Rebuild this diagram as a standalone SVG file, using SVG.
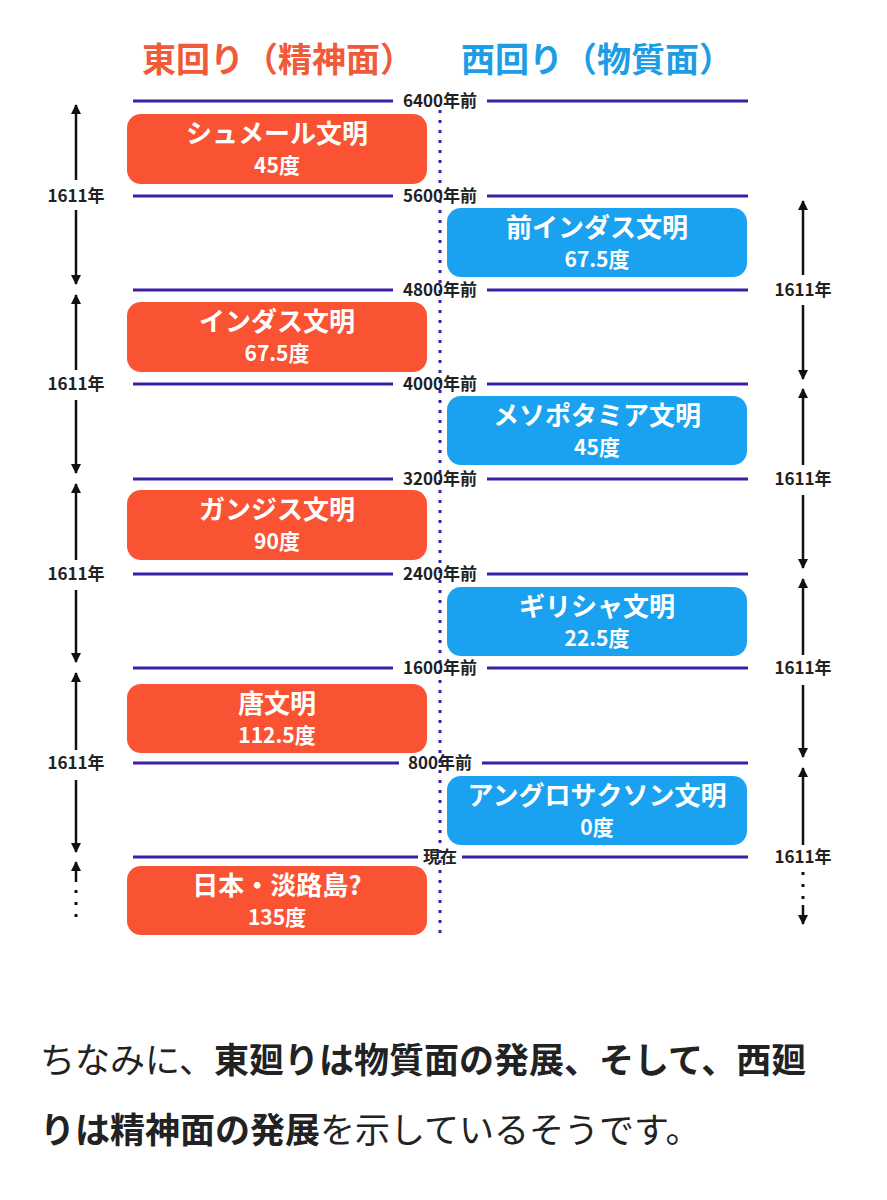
<svg xmlns="http://www.w3.org/2000/svg" width="887" height="1200" viewBox="0 0 887 1200">
<style>
text{font-family:"Noto Sans CJK JP","Liberation Sans",sans-serif;font-weight:bold}
.hl{stroke:#3b1fa8;stroke-width:3}
.lbl{font-size:17px;fill:#222;text-anchor:middle}
.yr{font-size:17px;fill:#222;text-anchor:middle}
.bt{font-size:26px;fill:#fff;text-anchor:middle}
.bs{font-size:21px;fill:#fff;text-anchor:middle}
.red{fill:#f95333}
.blue{fill:#1aa2f0}
.ar{stroke:#111;stroke-width:2.5;fill:none}
.dot{stroke:#111;stroke-width:3;stroke-dasharray:3 9;fill:none}
</style>
<defs><marker id="ah" viewBox="0 0 10 10" refX="9" refY="5" markerWidth="4" markerHeight="4" orient="auto"><path d="M0,0L10,5L0,10z" fill="#111"/></marker></defs>
<rect width="887" height="1200" fill="#fff"/>
<text x="278" y="72" font-size="34" fill="#ef5a38" text-anchor="middle">東回り（精神面）</text>
<text x="597" y="72" font-size="34" fill="#1c9de6" text-anchor="middle">西回り（物質面）</text>
<line x1="440" y1="110" x2="440" y2="935" stroke="#3b1fa8" stroke-width="3" stroke-dasharray="3 7"/>
<g id="connectors">
<line class="hl" x1="133" y1="101" x2="393" y2="101"/><line class="hl" x1="487" y1="101" x2="748" y2="101"/>
<line class="hl" x1="133" y1="196" x2="393" y2="196"/><line class="hl" x1="487" y1="196" x2="748" y2="196"/>
<line class="hl" x1="133" y1="290" x2="393" y2="290"/><line class="hl" x1="487" y1="290" x2="748" y2="290"/>
<line class="hl" x1="133" y1="384" x2="393" y2="384"/><line class="hl" x1="487" y1="384" x2="748" y2="384"/>
<line class="hl" x1="133" y1="479" x2="393" y2="479"/><line class="hl" x1="487" y1="479" x2="748" y2="479"/>
<line class="hl" x1="133" y1="574" x2="393" y2="574"/><line class="hl" x1="487" y1="574" x2="748" y2="574"/>
<line class="hl" x1="133" y1="668" x2="393" y2="668"/><line class="hl" x1="487" y1="668" x2="748" y2="668"/>
<line class="hl" x1="133" y1="763" x2="399" y2="763"/><line class="hl" x1="482" y1="763" x2="748" y2="763"/>
<line class="hl" x1="133" y1="857" x2="418" y2="857"/><line class="hl" x1="462" y1="857" x2="748" y2="857"/>
<line class="ar" x1="76" y1="180" x2="76" y2="105" marker-end="url(#ah)"/><line class="ar" x1="76" y1="210" x2="76" y2="284" marker-end="url(#ah)"/>
<line class="ar" x1="76" y1="370" x2="76" y2="295" marker-end="url(#ah)"/><line class="ar" x1="76" y1="400" x2="76" y2="473" marker-end="url(#ah)"/>
<line class="ar" x1="76" y1="560" x2="76" y2="484" marker-end="url(#ah)"/><line class="ar" x1="76" y1="590" x2="76" y2="662" marker-end="url(#ah)"/>
<line class="ar" x1="76" y1="750" x2="76" y2="673" marker-end="url(#ah)"/><line class="ar" x1="76" y1="780" x2="76" y2="852" marker-end="url(#ah)"/>
<line class="ar" x1="76" y1="882" x2="76" y2="862" marker-end="url(#ah)"/><line class="dot" x1="76" y1="890" x2="76" y2="920"/>
<line class="ar" x1="803" y1="275" x2="803" y2="201" marker-end="url(#ah)"/><line class="ar" x1="803" y1="305" x2="803" y2="379" marker-end="url(#ah)"/>
<line class="ar" x1="803" y1="465" x2="803" y2="389" marker-end="url(#ah)"/><line class="ar" x1="803" y1="495" x2="803" y2="568" marker-end="url(#ah)"/>
<line class="ar" x1="803" y1="655" x2="803" y2="579" marker-end="url(#ah)"/><line class="ar" x1="803" y1="685" x2="803" y2="757" marker-end="url(#ah)"/>
<line class="ar" x1="803" y1="845" x2="803" y2="768" marker-end="url(#ah)"/><line class="dot" x1="803" y1="872" x2="803" y2="902"/>
<line class="ar" x1="803" y1="905" x2="803" y2="924" marker-end="url(#ah)"/>
</g>
<g id="timeLabels">
<text class="lbl" x="440" y="107">6400年前</text><text class="lbl" x="440" y="202">5600年前</text>
<text class="lbl" x="440" y="296">4800年前</text><text class="lbl" x="440" y="390">4000年前</text>
<text class="lbl" x="440" y="485">3200年前</text><text class="lbl" x="440" y="580">2400年前</text>
<text class="lbl" x="440" y="674">1600年前</text><text class="lbl" x="440" y="769">800年前</text>
<text class="lbl" x="440" y="863">現在</text>
<text class="yr" x="76" y="202">1611年</text><text class="yr" x="76" y="390">1611年</text>
<text class="yr" x="76" y="580">1611年</text><text class="yr" x="76" y="769">1611年</text>
<text class="yr" x="803" y="296">1611年</text><text class="yr" x="803" y="485">1611年</text>
<text class="yr" x="803" y="674">1611年</text><text class="yr" x="803" y="863">1611年</text>
</g>
<g id="sumer"><rect class="red" x="127" y="114" width="300" height="70" rx="14"/><text class="bt" x="277" y="143">シュメール文明</text><text class="bs" x="277" y="173">45度</text></g>
<g id="preindus"><rect class="blue" x="447" y="208" width="300" height="69" rx="14"/><text class="bt" x="597" y="237">前インダス文明</text><text class="bs" x="597" y="267">67.5度</text></g>
<g id="indus"><rect class="red" x="127" y="302" width="300" height="70" rx="14"/><text class="bt" x="277" y="331">インダス文明</text><text class="bs" x="277" y="361">67.5度</text></g>
<g id="meso"><rect class="blue" x="447" y="396" width="300" height="69" rx="14"/><text class="bt" x="597" y="425">メソポタミア文明</text><text class="bs" x="597" y="455">45度</text></g>
<g id="ganges"><rect class="red" x="127" y="490" width="300" height="70" rx="14"/><text class="bt" x="277" y="519">ガンジス文明</text><text class="bs" x="277" y="549">90度</text></g>
<g id="greek"><rect class="blue" x="447" y="587" width="300" height="69" rx="14"/><text class="bt" x="597" y="616">ギリシャ文明</text><text class="bs" x="597" y="646">22.5度</text></g>
<g id="tang"><rect class="red" x="127" y="684" width="300" height="69" rx="14"/><text class="bt" x="277" y="713">唐文明</text><text class="bs" x="277" y="743">112.5度</text></g>
<g id="anglo"><rect class="blue" x="447" y="776" width="300" height="69" rx="14"/><text class="bt" x="597" y="805">アングロサクソン文明</text><text class="bs" x="597" y="835">0度</text></g>
<g id="japan"><rect class="red" x="127" y="866" width="300" height="69" rx="14"/><text class="bt" x="277" y="895">日本・淡路島?</text><text class="bs" x="277" y="925">135度</text></g>
<text x="40" y="1073" font-size="35" fill="#222"><tspan font-weight="normal">ちなみに、</tspan>東廻りは物質面の発展、そして、西廻</text>
<text x="40" y="1143" font-size="35" fill="#222">りは精神面の発展<tspan font-weight="normal">を示しているそうです。</tspan></text>
</svg>
